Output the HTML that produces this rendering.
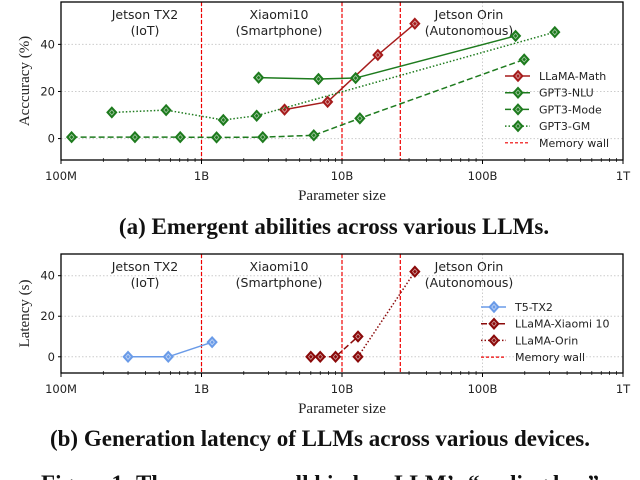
<!DOCTYPE html>
<html><head><meta charset="utf-8"><style>
body{margin:0;background:#fff;width:640px;height:480px;overflow:hidden}
svg{display:block}
.tk{font-family:"DejaVu Sans",sans-serif;font-size:11.5px;fill:#222}
.lg{font-family:"DejaVu Sans",sans-serif;font-size:11px;fill:#222}
.an{font-family:"DejaVu Sans",sans-serif;font-size:12.5px;fill:#222}
.se{font-family:"Liberation Serif",serif;font-size:15px;fill:#222}
.cap{font-family:"Liberation Serif",serif;font-size:23px;font-weight:bold;fill:#111}
</style></head><body>
<svg id="s" width="640" height="480"></svg>
<script>
const tickVals=[1e8,1e9,1e10,1e11,1e12];
const tickLabels=['100M','1B','10B','100B','1T'];
const walls=[1e9,1e10,2.6e10];
const devices=['Jetson TX2|(IoT)','Xiaomi10|(Smartphone)','Jetson Orin|(Autonomous)'];
const mathX=[3.9e9,7.9e9,1.8e10,3.3e10], mathY=[12.3,15.6,35.5,48.8];
const nluX=[2.55e9,6.8e9,1.25e10,1.72e11], nluY=[25.9,25.3,25.7,43.6];
const modeX=[1.19e8,3.36e8,7.06e8,1.28e9,2.73e9,6.3e9,1.34e10,1.98e11], modeY=[0.6,0.6,0.6,0.5,0.6,1.4,8.6,33.6];
const gmX=[2.3e8,5.6e8,1.43e9,2.47e9,3.27e11], gmY=[11.1,12.1,7.9,9.7,45.2];
const t5X=[3.0e8,5.8e8,1.19e9], t5Y=[0,0,7.2];
const xiaX=[6.0e9,7.0e9,9.0e9,1.3e10], xiaY=[0,0,0,10];
const orinX=[1.3e10,3.3e10], orinY=[0,42];
const yTicksA=[0,20,40], yTicksB=[0,20,40];

const NS='http://www.w3.org/2000/svg', S=document.getElementById('s');
function el(t,a,p){const e=document.createElementNS(NS,t);for(const k in a)e.setAttribute(k,a[k]);(p||S).appendChild(e);return e;}
const L=61,R=623;
const xs=v=>L+(Math.log10(v)-8)/4*(R-L);
function diamond(g,x,y,c,name){
  const d=el('path',{d:`M${x} ${y-5.5}L${x+5} ${y}L${x} ${y+5.5}L${x-5} ${y}Z`,fill:c,stroke:c,'stroke-width':1},g);
  
  el('path',{d:`M${x} ${y-2.6}L${x+2.3} ${y}L${x} ${y+2.6}L${x-2.3} ${y}Z`,fill:'none',stroke:'#fff','stroke-width':0.8,opacity:0.6},g);
}
function panel(top,bot,ymin,ymax,yTicks,ylabel,series,legendY,legX,id){
  const g=el('g',{});
  const ys=v=>bot-(v-ymin)/(ymax-ymin)*(bot-top);
  yTicks.forEach(v=>{el('line',{x1:L,x2:R,y1:ys(v),y2:ys(v),stroke:'#ccc','stroke-dasharray':'1.5,2'},g);
    const t=el('text',{x:L-6,y:ys(v)+4,'text-anchor':'end',class:'tk'},g);t.textContent=v;
    
    el('line',{x1:L-3,x2:L,y1:ys(v),y2:ys(v),stroke:'#000'},g);});
  tickVals.forEach((v,i)=>{const x=xs(v);
    if(i>0&&i<4)el('line',{x1:x,x2:x,y1:top,y2:bot,stroke:'#ccc','stroke-dasharray':'1.5,2'},g);
    el('line',{x1:x,x2:x,y1:bot,y2:bot+4,stroke:'#000'},g);
    const t=el('text',{x:x,y:bot+20,'text-anchor':'middle',class:'tk'},g);t.textContent=tickLabels[i];
    
    if(i<4)for(let m=2;m<10;m++){const mx=xs(v*m);el('line',{x1:mx,x2:mx,y1:bot,y2:bot+2,stroke:'#000','stroke-width':0.7},g);el('line',{x1:mx,x2:mx,y1:bot,y2:bot-2,stroke:'#000','stroke-width':0.7},g);}
  });
  walls.forEach(w=>{const l=el('line',{x1:xs(w),x2:xs(w),y1:top,y2:bot,stroke:'#e00','stroke-width':1.2,'stroke-dasharray':'4,2'},g);
    });
  const ann=[145,279,469];
  devices.forEach((d,i)=>{const [a,b]=d.split('|');
    const t=el('text',{x:ann[i],y:top+17,'text-anchor':'middle',class:'an'},g);t.textContent=a;
    
    const t2=el('text',{x:ann[i],y:top+33,'text-anchor':'middle',class:'an'},g);t2.textContent=b;
    });
  series.forEach((s,si)=>{
    const sg=el('g',{},g);
    const pts=s.x.map((v,i)=>xs(v)+','+ys(s.y[i])).join(' ');
    el('polyline',{points:pts,fill:'none',stroke:s.c,'stroke-width':1.5,'stroke-dasharray':s.dash||''},sg);
    s.x.forEach((v,i)=>diamond(sg,xs(v),ys(s.y[i]),s.c,s.name+'-point'));
    const ly=legendY+si*16.7;
    el('line',{x1:legX-13,x2:legX+12,y1:ly,y2:ly,stroke:s.c,'stroke-width':1.5,'stroke-dasharray':s.dash||''},g);
    diamond(g,legX,ly,s.c,'legend-marker');
    const t=el('text',{x:legX+21,y:ly+4,class:'lg'},g);t.textContent=s.label;
    
  });
  const ly=legendY+series.length*16.7;
  el('line',{x1:legX-13,x2:legX+12,y1:ly,y2:ly,stroke:'#e00','stroke-width':1.2,'stroke-dasharray':'3,2'},g);
  const t=el('text',{x:legX+21,y:ly+4,class:'lg'},g);t.textContent='Memory wall';
  
  el('rect',{x:L,y:top,width:R-L,height:bot-top,fill:'none',stroke:'#000','stroke-width':1.3},g);
  const yl=el('text',{x:0,y:0,transform:`translate(${L-32},${(top+bot)/2}) rotate(-90)`,'text-anchor':'middle',class:'se'},g);yl.textContent=ylabel;
  
  const xl=el('text',{x:342,y:bot+40,'text-anchor':'middle',class:'se'},g);xl.textContent='Parameter size';
  
}
const G='#1e7b1e',RD='#a61c1c',DR='#8b0a0a';
panel(2,160,-9.1,58,yTicksA,'Acccuracy (%)',[
 {name:'llama-math',label:'LLaMA-Math',x:mathX,y:mathY,c:RD},
 {name:'gpt3-nlu',label:'GPT3-NLU',x:nluX,y:nluY,c:G},
 {name:'gpt3-mode',label:'GPT3-Mode',x:modeX,y:modeY,c:G,dash:'6,3'},
 {name:'gpt3-gm',label:'GPT3-GM',x:gmX,y:gmY,c:G,dash:'1.5,2'}],76,518,'accuracy-chart');
panel(254,373,-8,50.7,yTicksB,'Latency (s)',[
 {name:'t5-tx2',label:'T5-TX2',x:t5X,y:t5Y,c:'#6a9be8'},
 {name:'llama-xiaomi',label:'LLaMA-Xiaomi 10',x:xiaX,y:xiaY,c:DR,dash:'6,3'},
 {name:'llama-orin',label:'LLaMA-Orin',x:orinX,y:orinY,c:DR,dash:'1.5,2'}],307,494,'latency-chart');
[['(a) Emergent abilities across various LLMs.',234,334],['(b) Generation latency of LLMs across various devices.',446,320],['Figure 1: The memory wall hinders LLM\u2019s \u201cscaling law\u201d',491,320]].forEach(([s,y,x],i)=>{
 const t=el('text',{x:x,y:y,'text-anchor':'middle',class:'cap'});t.textContent=s;
 });
</script>
</body></html>
